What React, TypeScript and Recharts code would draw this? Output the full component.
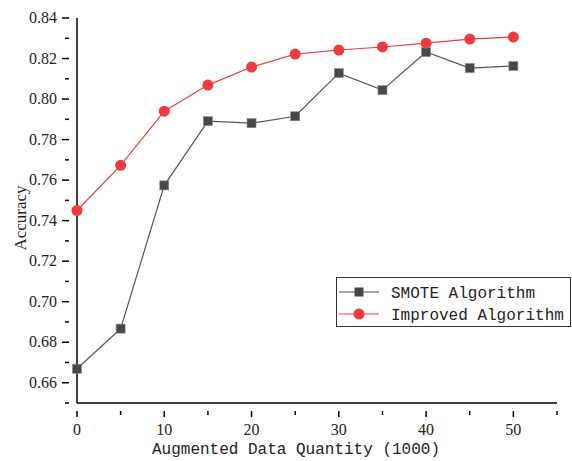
import React from "react";
import { LineChart, Line, XAxis, YAxis } from "recharts";

const quantities = [0, 5, 10, 15, 20, 25, 30, 35, 40, 45, 50];
const smoteAccuracy = [0.6669, 0.6867, 0.7574, 0.7891, 0.7881, 0.7915, 0.8128, 0.8044, 0.8232, 0.8153, 0.8163];
const improvedAccuracy = [0.745, 0.7673, 0.794, 0.8069, 0.8158, 0.8222, 0.8242, 0.8257, 0.8276, 0.8296, 0.8306];
const xTicks = [0, 5, 10, 15, 20, 25, 30, 35, 40, 45, 50, 55];
const xLabeled = [0, 10, 20, 30, 40, 50];
const yTicks = [0.65, 0.66, 0.67, 0.68, 0.69, 0.7, 0.71, 0.72, 0.73, 0.74, 0.75, 0.76, 0.77, 0.78, 0.79, 0.8, 0.81, 0.82, 0.83, 0.84];
const yLabeled = [0.66, 0.68, 0.7, 0.72, 0.74, 0.76, 0.78, 0.8, 0.82, 0.84];
const seriesNames = ["SMOTE Algorithm", "Improved Algorithm"];
const xTitle = "Augmented Data Quantity (1000)";
const yTitle = "Accuracy";

const data = quantities.map((q, i) => ({ q, smote: smoteAccuracy[i], improved: improvedAccuracy[i] }));

const SERIF = "'Liberation Serif', 'DejaVu Serif', serif";
const MONO = "'Liberation Mono', 'DejaVu Sans Mono', monospace";
const RED = "#EF3B40";
const DARK = "#484848";

const isLabeledX = (v: number) => xLabeled.some((t) => Math.abs(t - v) < 1e-6);
const isLabeledY = (v: number) => yLabeled.some((t) => Math.abs(t - v) < 1e-6);

const XTick = (props: any) => {
  const { x, y, payload } = props;
  const major = isLabeledX(payload.value);
  return (
    <g>
      <line x1={x} x2={x} y1={y} y2={y + (major ? 6 : 4)} stroke="#000" strokeWidth={1.5} />
      {major && (
        <text x={x} y={y + 24} textAnchor="middle" fontFamily={SERIF} fontSize={16} fill="#222">
          {payload.value}
        </text>
      )}
    </g>
  );
};

const YTick = (props: any) => {
  const { x, y, payload } = props;
  const major = isLabeledY(payload.value);
  return (
    <g>
      <line x1={x} x2={x - (major ? 7 : 4)} y1={y} y2={y} stroke="#000" strokeWidth={1.5} />
      {major && (
        <text x={x - 12} y={y + 5} textAnchor="end" fontFamily={SERIF} fontSize={16} fill="#222">
          {payload.value.toFixed(2)}
        </text>
      )}
    </g>
  );
};

const Square = (props: any) => {
  const { cx, cy } = props;
  return <rect x={cx - 4.5} y={cy - 4.5} width={9} height={9} fill={DARK} stroke="#888" strokeWidth={0.6} />;
};

const Dot = (props: any) => {
  const { cx, cy } = props;
  return <circle cx={cx} cy={cy} r={5.5} fill={RED} />;
};

export default function App() {
  return (
    <div style={{ position: "fixed", left: 0, top: 0, width: 572, height: 461, background: "#fff", overflow: "hidden" }}>
      <LineChart width={572} height={461} data={data} margin={{ top: 18, right: 15, bottom: 0, left: 0 }}>
        <XAxis
          dataKey="q"
          type="number"
          domain={[0, 55]}
          ticks={xTicks}
          tick={<XTick />}
          tickLine={false}
          axisLine={{ stroke: "#000", strokeWidth: 1.5 }}
          interval={0}
          height={58}
        />
        <YAxis
          type="number"
          domain={[0.65, 0.84]}
          ticks={yTicks}
          tick={<YTick />}
          tickLine={false}
          axisLine={{ stroke: "#000", strokeWidth: 1.5 }}
          interval={0}
          width={77}
        />
        <Line dataKey="smote" stroke="#555" strokeWidth={1.2} dot={<Square />} isAnimationActive={false} />
        <Line dataKey="improved" stroke={RED} strokeWidth={1.2} dot={<Dot />} isAnimationActive={false} />
      </LineChart>
      <svg width={572} height={461} style={{ position: "absolute", left: 0, top: 0, pointerEvents: "none" }}>
        <text x={296} y={454} textAnchor="middle" fontFamily={MONO} fontSize={16} fill="#222">{xTitle}</text>
        <text x={26} y={218} textAnchor="middle" fontFamily={SERIF} fontSize={17} fill="#222" transform="rotate(-90 26 218)">{yTitle}</text>
      </svg>
      <div
        style={{
          position: "absolute",
          left: 336,
          top: 277,
          width: 233,
          height: 48,
          border: "1px solid #333",
          background: "#fff",
        }}
      >
        <svg width={233} height={48} style={{ position: "absolute", left: 0, top: 0 }}>
          <line x1={2} x2={42} y1={14} y2={14} stroke="#555" strokeWidth={1.2} />
          <rect x={17.5} y={9.5} width={9} height={9} fill={DARK} />
          <text x={54} y={20} fontFamily={MONO} fontSize={16} fill="#222">{seriesNames[0]}</text>
          <line x1={2} x2={42} y1={36} y2={36} stroke={RED} strokeWidth={1.2} />
          <circle cx={22} cy={36} r={5.5} fill={RED} />
          <text x={54} y={42} fontFamily={MONO} fontSize={16} fill="#222">{seriesNames[1]}</text>
        </svg>
      </div>
    </div>
  );
}
